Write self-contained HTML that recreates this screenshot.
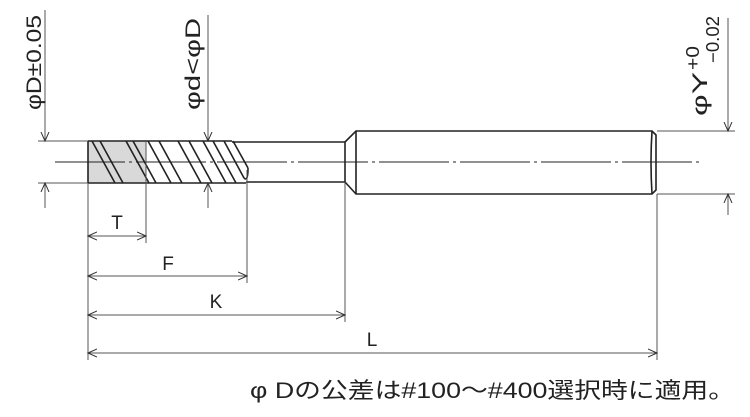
<!DOCTYPE html>
<html><head><meta charset="utf-8"><style>
html,body{margin:0;padding:0;background:#fff;}
svg{display:block}
text{font-family:"Liberation Sans","Noto Sans CJK JP",sans-serif;fill:#222}
</style></head><body>
<svg width="750" height="417" viewBox="0 0 750 417" xmlns="http://www.w3.org/2000/svg">
<defs>
<marker id="a" markerWidth="10" markerHeight="10" refX="9" refY="5" orient="auto" markerUnits="userSpaceOnUse">
<path d="M0,1 L9,5 L0,9" fill="none" stroke="#333" stroke-width="1"/></marker>
</defs>
<path d="M88,141 L146,141 L146,183 L88,183 Z" fill="#d9d9d9"/>
<g stroke="#222" stroke-width="1.6" fill="none">
<line x1="88" y1="141" x2="88" y2="183"/>
<line x1="88" y1="141" x2="232" y2="141"/>
<line x1="88" y1="183" x2="246" y2="183"/>
<line x1="92" y1="141" x2="115" y2="183"/>
<line x1="100" y1="141" x2="123" y2="183"/>
<line x1="126" y1="141" x2="149" y2="183"/>
<line x1="133" y1="141" x2="156" y2="183"/>
<line x1="148" y1="141" x2="171" y2="183"/>
<line x1="159" y1="141" x2="182" y2="183"/>
<line x1="178" y1="141" x2="201" y2="183"/>
<line x1="189" y1="141" x2="212" y2="183"/>
<line x1="203" y1="141" x2="226" y2="183"/>
<line x1="213" y1="141" x2="236" y2="183"/>
<line x1="224" y1="141" x2="244" y2="178"/>
<line x1="233" y1="141" x2="248" y2="168"/>
<path d="M244,178 Q248,182 248,168"/>
<line x1="232" y1="142" x2="345" y2="142"/>
<line x1="246" y1="182" x2="345" y2="182"/>
<line x1="345" y1="142" x2="345" y2="182"/>
<path d="M345,142 L356,131 L652,131 L656,135 L656,190 L652,194 L356,194 L345,182"/>
<line x1="356" y1="131" x2="356" y2="194"/>
<path d="M652,131 Q650,162 652,194"/>
</g>
<line x1="55" y1="162" x2="700" y2="162" stroke="#222" stroke-width="1" stroke-dasharray="70,4,3,4"/>
<g stroke="#555" stroke-width="1" fill="none">
<line x1="38" y1="141" x2="88" y2="141"/>
<line x1="38" y1="183" x2="88" y2="183"/>
<line x1="657" y1="131" x2="735" y2="131"/>
<line x1="657" y1="194" x2="735" y2="194"/>
<line x1="88" y1="183" x2="88" y2="360"/>
<line x1="146" y1="141" x2="146" y2="243"/>
<line x1="247" y1="170" x2="247" y2="283"/>
<line x1="345" y1="182" x2="345" y2="322"/>
<line x1="657" y1="194" x2="657" y2="360"/>
<line x1="45" y1="10" x2="45" y2="141" marker-end="url(#a)"/>
<line x1="45" y1="208" x2="45" y2="183" marker-end="url(#a)"/>
<line x1="208" y1="15" x2="208" y2="141" marker-end="url(#a)"/>
<line x1="208" y1="208" x2="208" y2="183" marker-end="url(#a)"/>
<line x1="728" y1="18" x2="728" y2="131" marker-end="url(#a)"/>
<line x1="728" y1="215" x2="728" y2="194" marker-end="url(#a)"/>
<line x1="117" y1="236" x2="88" y2="236" marker-end="url(#a)"/>
<line x1="117" y1="236" x2="146" y2="236" marker-end="url(#a)"/>
<line x1="167" y1="276" x2="88" y2="276" marker-end="url(#a)"/>
<line x1="167" y1="276" x2="247" y2="276" marker-end="url(#a)"/>
<line x1="216" y1="315" x2="88" y2="315" marker-end="url(#a)"/>
<line x1="216" y1="315" x2="345" y2="315" marker-end="url(#a)"/>
<line x1="372" y1="353" x2="88" y2="353" marker-end="url(#a)"/>
<line x1="372" y1="353" x2="657" y2="353" marker-end="url(#a)"/>
</g>
<text x="117" y="229" font-size="19" text-anchor="middle">T</text>
<text x="168" y="270" font-size="19" text-anchor="middle">F</text>
<text x="216" y="308" font-size="19" text-anchor="middle">K</text>
<text x="372" y="346" font-size="19" text-anchor="middle">L</text>
<text transform="translate(41,110) rotate(-90)" font-size="21" textLength="95" lengthAdjust="spacingAndGlyphs">φD±0.05</text>
<text transform="translate(200,110) rotate(-90)" font-size="21" textLength="92" lengthAdjust="spacingAndGlyphs">φd&lt;φD</text>
<text transform="translate(707,116) rotate(-90)" font-size="21" textLength="44" lengthAdjust="spacingAndGlyphs">φY</text>
<text transform="translate(699,70) rotate(-90)" font-size="18" textLength="24" lengthAdjust="spacingAndGlyphs">+0</text>
<text transform="translate(719,63) rotate(-90)" font-size="18" textLength="47" lengthAdjust="spacingAndGlyphs">−0.02</text>
<text x="250" y="398" font-size="22" textLength="485" lengthAdjust="spacingAndGlyphs">φ Dの公差は#100〜#400選択時に適用。</text>
</svg>
</body></html>
